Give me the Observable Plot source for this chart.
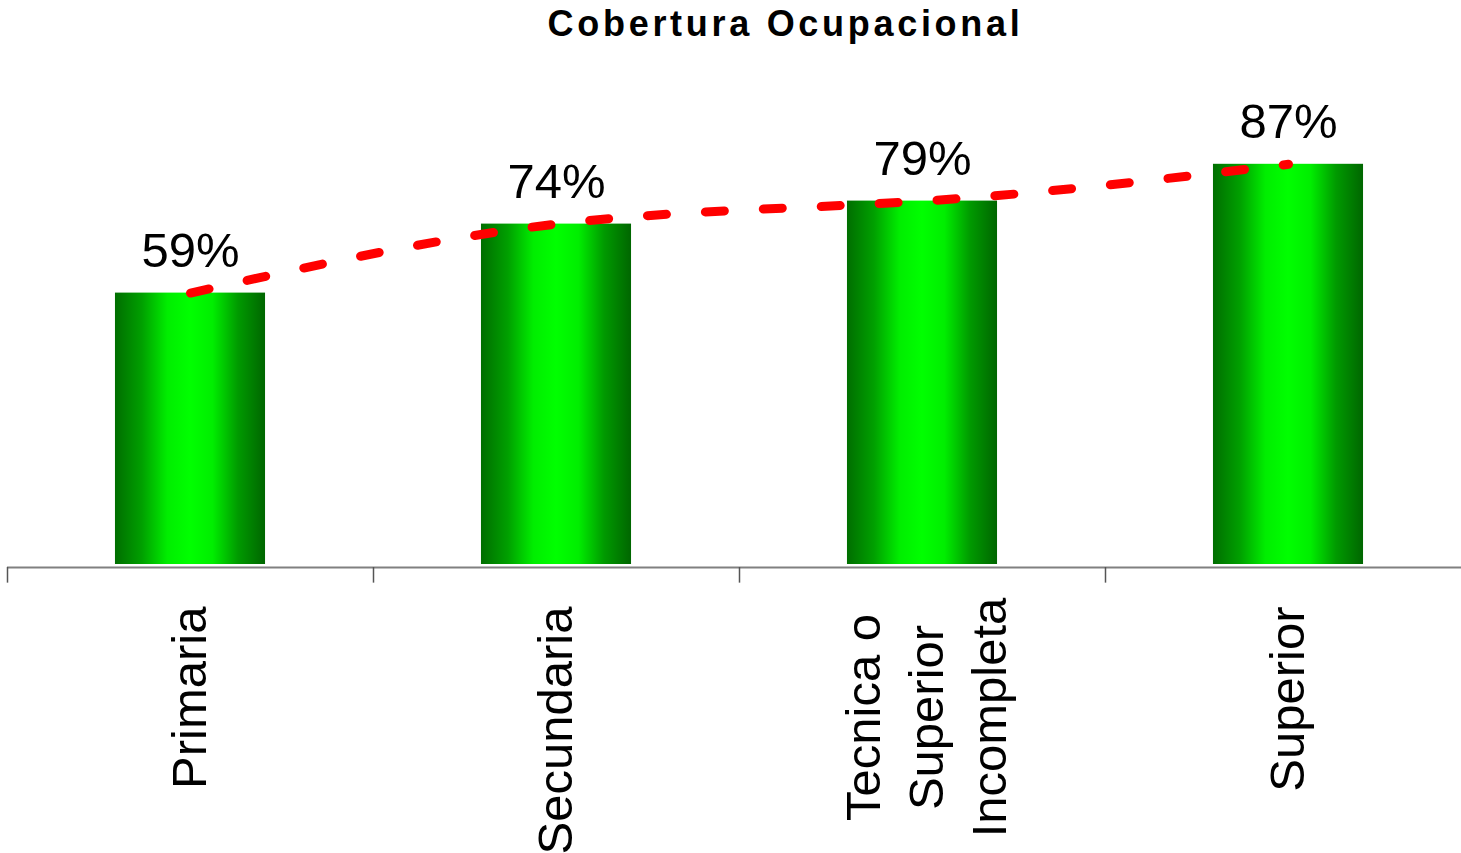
<!DOCTYPE html>
<html><head><meta charset="utf-8">
<script src="https://cdn.jsdelivr.net/npm/d3@7"></script>
<script src="https://cdn.jsdelivr.net/npm/@observablehq/plot@0.6"></script>
<style>
html,body{margin:0;padding:0;background:#fff;overflow:hidden;}
#title{height:47px;padding-top:3px;line-height:50px;font:bold 36px "Liberation Sans",Arial,sans-serif;letter-spacing:3.7px;text-align:center;padding-left:110px;width:1351px;color:#000;white-space:nowrap;overflow:visible;}
#chart svg{display:block;max-width:none !important;width:1471px !important;height:803px !important;}
</style></head><body>
<div id="title">Cobertura Ocupacional</div>
<div id="chart"></div>
<script>
const categories = ["Primaria", "Secundaria", "Tecnica o\nSuperior\nIncompleta", "Superior"];
const values = [59, 74, 79, 87];
const valueLabels = ["59%", "74%", "79%", "87%"];

const data = categories.map((c, i) => ({i, category: c, value: values[i], label: valueLabels[i], multi: c.includes("\n")}));
const boundaries = categories.map((_, i) => i - 0.5);

const chart = Plot.plot({
  width: 1471,
  height: 803,
  marginLeft: 7,
  marginRight: 0,
  marginTop: 54,
  marginBottom: 289,
  style: {fontFamily: "'Liberation Sans', Arial, sans-serif", background: "#fff", overflow: "visible", maxWidth: "none"},
  x: {domain: [-0.5, categories.length - 0.5], axis: null},
  y: {domain: [0, 100], axis: null},
  marks: [
    Plot.rectY(data, {x1: d => d.i - 0.205, x2: d => d.i + 0.205, y: "value", fill: "url(#barGrad)"}),
    Plot.ruleY([0], {dy: 3, stroke: "#808080", strokeWidth: 2}),
    Plot.ruleX(boundaries, {y1: 0, y2: -3.4, dy: 3, stroke: "#555", strokeWidth: 1.5}),
    Plot.line(data, {x: "i", y: "value", stroke: "#ff0000", strokeWidth: 9, strokeDasharray: "19,39", curve: "natural"}),
    Plot.text(data, {x: "i", y: "value", text: "label", dy: -26, lineAnchor: "bottom", fontSize: 49, fill: "#000"}),
    Plot.text(data.filter(d => !d.multi), {x: "i", text: "category", frameAnchor: "bottom", rotate: -90, textAnchor: "end", lineAnchor: "middle", dy: 42, fontSize: 49, fill: "#000"}),
    Plot.text(data.filter(d => d.multi), {x: "i", text: "category", frameAnchor: "bottom", rotate: -90, textAnchor: "middle", lineAnchor: "middle", lineHeight: 1.29, dy: 153, fontSize: 49, fill: "#000"})
  ]
});

const defs = d3.select(chart).insert("defs", ":first-child");
const grad = defs.append("linearGradient").attr("id", "barGrad").attr("x1", "0").attr("x2", "1").attr("y1", "0").attr("y2", "0");
[["0%", "#006e00"], ["18%", "#00a000"], ["35%", "#00ee00"], ["50%", "#00ff00"], ["65%", "#00ee00"], ["82%", "#009a00"], ["100%", "#006600"]]
  .forEach(([o, c]) => grad.append("stop").attr("offset", o).attr("stop-color", c));

document.getElementById("chart").appendChild(chart);
</script>
</body></html>
